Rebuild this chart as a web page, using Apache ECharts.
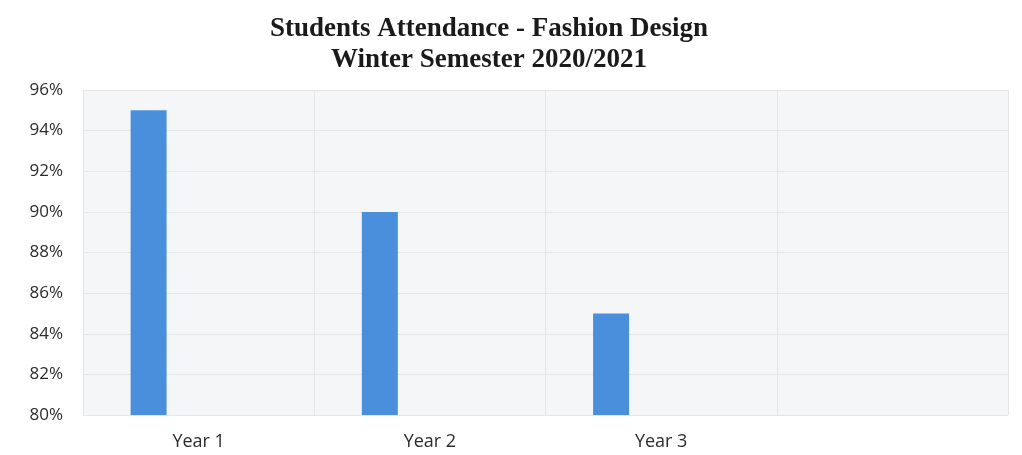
<!DOCTYPE html>
<html>
<head>
<meta charset="utf-8">
<script src="https://cdn.jsdelivr.net/npm/echarts@6/dist/echarts.min.js"></script>
<style>
  html, body { margin: 0; padding: 0; background: #fff; }
  #chart { width: 1022px; height: 455px; }
</style>
</head>
<body>
<div id="chart"></div>
<script>
const titleLines = ["Students Attendance - Fashion Design", "Winter Semester 2020/2021"];
const categories = ["Year 1", "Year 2", "Year 3", ""];
const attendance = [95, 90, 85, null];
const emptySeries = [null, null, null, null];

const chart = echarts.init(document.getElementById("chart"));
chart.setOption({
  animation: false,
  title: {
    text: titleLines.join("\n"),
    left: 484,
    textAlign: "center",
    top: 9,
    textStyle: {
      fontFamily: "Liberation Serif",
      fontWeight: "bold",
      fontSize: 27,
      lineHeight: 31,
      color: "#1a1a1a",
    },
  },
  grid: {
    left: 83,
    right: 14,
    top: 90,
    bottom: 40,
    show: true,
    backgroundColor: "#f5f6f7",
    borderWidth: 0,
  },
  xAxis: {
    type: "category",
    data: categories,
    axisLine: { show: false },
    axisTick: { show: false },
    splitLine: { show: true, lineStyle: { color: "#e4e6e8", width: 1 } },
    axisLabel: {
      interval: 0,
      margin: 18,
      fontFamily: "Open Sans",
      fontSize: 18,
      color: "#2b2b2b",
    },
  },
  yAxis: {
    type: "value",
    min: 80,
    max: 96,
    interval: 2,
    axisLine: { show: false },
    axisTick: { show: false },
    splitLine: { lineStyle: { color: "#e4e6e8", width: 1 } },
    axisLabel: {
      margin: 20,
      formatter: "{value}%",
      fontFamily: "Open Sans",
      fontSize: 17,
      color: "#2b2b2b",
    },
  },
  series: [
    {
      name: "Attendance",
      type: "bar",
      data: attendance,
      barWidth: 36,
      barGap: "178%",
      itemStyle: { color: "#4a8fdc" },
    },
    {
      name: "Empty",
      type: "bar",
      data: emptySeries,
      barWidth: 36,
    },
  ],
});
</script>
</body>
</html>
